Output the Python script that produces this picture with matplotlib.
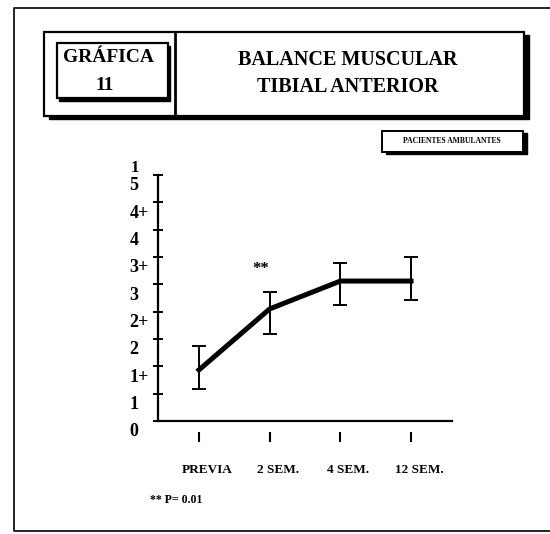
import numpy as np
import matplotlib
matplotlib.use('Agg')
import matplotlib.pyplot as plt
from matplotlib.patches import Rectangle
from matplotlib.lines import Line2D
import matplotlib.transforms as mtransforms

plt.rcParams['font.family'] = ['Liberation Serif', 'DejaVu Serif']
plt.rcParams['font.weight'] = 'bold'

categorias = ['PREVIA', '2 SEM.', '4 SEM.', '12 SEM.']
medias = [1.87, 4.10, 5.12, 5.12]
limite_sup = [2.75, 4.72, 5.78, 6.00]
limite_inf = [1.17, 3.19, 4.24, 4.43]
niveles = ['0', '1', '1+', '2', '2+', '3', '3+', '4', '4+', '5']

W, H = 550, 534
fig = plt.figure(figsize=(W / 100, H / 100), dpi=100)


def px(x, y):
    return x / W, 1 - y / H


def caja(x0, y0, x1, y1, sombra=(0, 0), lw=1.6):
    # rectangulo con sombra negra abajo/derecha
    if sombra != (0, 0):
        fig.patches.append(Rectangle(px(x0 + sombra[0], y1 + sombra[1]),
                                     (x1 - x0) / W, (y1 - y0) / H,
                                     transform=fig.transFigure,
                                     facecolor='black', edgecolor='black'))
    fig.patches.append(Rectangle(px(x0, y1), (x1 - x0) / W, (y1 - y0) / H,
                                 transform=fig.transFigure, facecolor='white',
                                 edgecolor='black', linewidth=lw))


def linea(xs, ys, lw=1.5):
    fig.lines.append(Line2D([x / W for x in xs], [1 - y / H for y in ys],
                            transform=fig.transFigure, color='black', lw=lw))


# marco exterior
linea([560, 14, 14, 560], [8, 8, 531, 531], lw=1.2)

# cabecera
caja(44, 32, 524, 116, sombra=(5, 3))
linea([175, 175], [32, 116], lw=2)
caja(57, 43, 168, 98, sombra=(2, 3))
fig.text(*px(109, 58), 'GRÁFICA', ha='center', va='center', fontsize=14)
fig.text(*px(105, 86), '11', ha='center', va='center', fontsize=14)
fig.text(*px(348, 60), 'BALANCE MUSCULAR', ha='center', va='center', fontsize=14.5)
fig.text(*px(348, 87), 'TIBIAL ANTERIOR', ha='center', va='center', fontsize=14.5)

caja(382, 131, 523, 152, sombra=(4, 2), lw=1.4)
fig.text(*px(452, 141), 'PACIENTES AMBULANTES', ha='center', va='center', fontsize=5.5)

# grafica
ax = fig.add_axes([158 / W, 1 - 421 / H, 294 / W, 246 / H])
x = np.arange(len(categorias))
med = np.array(medias)
err = [med - np.array(limite_inf), np.array(limite_sup) - med]
ax.errorbar(x, med, yerr=err, color='black', lw=3.6, elinewidth=1.4,
            capsize=5, capthick=1.4, clip_on=False, zorder=3)

ax.set_xlim(-0.58, 3.58)
ax.set_ylim(0, 9)
for s in ['top', 'right']:
    ax.spines[s].set_visible(False)
for s in ['left', 'bottom']:
    ax.spines[s].set_linewidth(1.6)

ax.set_yticks(range(len(niveles)), niveles, fontsize=13)
ax.tick_params(axis='y', direction='inout', length=7, width=1.4, pad=17)
desp_y = mtransforms.ScaledTranslation(0, -9 / 100, fig.dpi_scale_trans)
for lab in ax.get_yticklabels():
    lab.set_horizontalalignment('left')
    lab.set_transform(lab.get_transform() + desp_y)
# el "1" suelto que asoma sobre el 5
ax.text(-0.58, 9.25, '1', fontsize=12, ha='left', va='center',
        ).set_transform(ax.transData + mtransforms.ScaledTranslation(-27 / 100, 0, fig.dpi_scale_trans))

ax.set_xticks(x, categorias, fontsize=9.5)
ax.tick_params(axis='x', length=0, pad=31)
desp_x = mtransforms.ScaledTranslation(8 / 100, 0, fig.dpi_scale_trans)
for lab in ax.get_xticklabels():
    lab.set_transform(lab.get_transform() + desp_x)
ax.plot(x, [-0.58] * len(x), ls='none', marker='|', markersize=7,
        markeredgewidth=1.5, color='black', clip_on=False)

ax.text(0.88, 5.56, '**', ha='center', va='center', fontsize=12)
fig.text(*px(150, 500), '** P= 0.01', ha='left', va='center', fontsize=8.5)

fig.savefig('out.png', dpi=100, facecolor='white')
